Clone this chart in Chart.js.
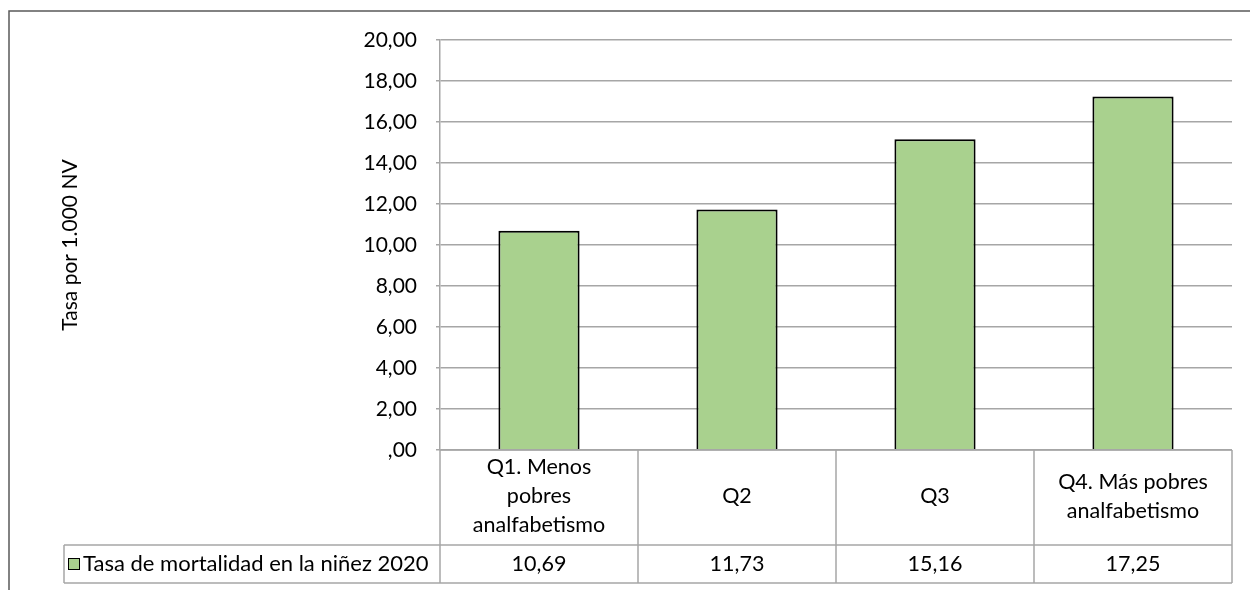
<!DOCTYPE html>
<html>
<head>
<meta charset="utf-8">
<script src="https://cdn.jsdelivr.net/npm/chart.js@4"></script>
<style>
  html, body { margin: 0; padding: 0; background: #fff; }
  #wrap { width: 1250px; height: 590px; }
</style>
</head>
<body>
<div id="wrap"><canvas id="chart" width="1250" height="590"></canvas></div>
<script>
const categories = [
  ["Q1. Menos", "pobres", "analfabetismo"],
  ["Q2"],
  ["Q3"],
  ["Q4. Más pobres", "analfabetismo"]
];
const seriesName = "Tasa de mortalidad en la niñez 2020";
const seriesValues = [10.69, 11.73, 15.16, 17.25];
const yTitle = "Tasa por 1.000 NV";
const yMin = 0, yMax = 20, yStep = 2;

const FONT = "Lato, 'Open Sans', sans-serif";
const GRID = "#a6a6a6";

// comma decimals like the original, zero shows as ",00"
function fmt(v) {
  if (v === 0) return ",00";
  return v.toFixed(2).replace(".", ",");
}

// draws the data table under the plot, the axis title and the outer frame
const tablePlugin = {
  id: "dataTable",
  afterDraw(chart) {
    const ctx = chart.ctx;
    const x = chart.scales.x;
    const area = chart.chartArea;
    const half = (x.getPixelForValue(1) - x.getPixelForValue(0)) / 2;
    const headTop = area.bottom, headBottom = area.bottom + 95, rowBottom = area.bottom + 133;
    const legendLeft = 64;

    ctx.save();
    ctx.strokeStyle = GRID;
    ctx.lineWidth = 1.5;
    ctx.beginPath();
    // horizontal lines
    ctx.moveTo(area.left, headTop); ctx.lineTo(area.right, headTop);
    ctx.moveTo(legendLeft, headBottom); ctx.lineTo(area.right, headBottom);
    ctx.moveTo(legendLeft, rowBottom); ctx.lineTo(area.right, rowBottom);
    // column borders
    for (let i = 0; i <= categories.length; i++) {
      const px = x.getPixelForValue(i) - half;
      ctx.moveTo(px, headTop); ctx.lineTo(px, rowBottom);
    }
    ctx.moveTo(legendLeft, headBottom); ctx.lineTo(legendLeft, rowBottom);
    ctx.stroke();

    // header + values
    ctx.fillStyle = "#000";
    ctx.font = "21.5px " + FONT;
    ctx.textAlign = "center";
    ctx.textBaseline = "middle";
    const lh = 29;
    const headMid = (headTop + headBottom) / 2 - 1;
    const rowMid = (headBottom + rowBottom) / 2;
    categories.forEach((lines, i) => {
      const cx = x.getPixelForValue(i);
      const y0 = headMid - (lines.length - 1) * lh / 2;
      lines.forEach((t, j) => ctx.fillText(t, cx, y0 + j * lh));
      ctx.fillText(fmt(seriesValues[i]), cx, rowMid);
    });

    // legend key + series name
    const ds = chart.data.datasets[0];
    ctx.fillStyle = ds.backgroundColor;
    ctx.fillRect(68, rowMid - 6, 12, 12);
    ctx.strokeStyle = "#000";
    ctx.lineWidth = 1;
    ctx.strokeRect(68.5, rowMid - 5.5, 11, 11);
    ctx.fillStyle = "#000";
    ctx.textAlign = "left";
    ctx.font = "22px " + FONT;
    ctx.fillText(seriesName, 83, rowMid);

    // y axis title
    ctx.font = "21px " + FONT;
    ctx.translate(70, (area.top + area.bottom) / 2);
    ctx.rotate(-Math.PI / 2);
    ctx.textAlign = "center";
    ctx.fillText(yTitle, 0, 0);
    ctx.restore();

    // outer chart frame (runs off the picture on the right and bottom)
    ctx.save();
    ctx.strokeStyle = "#595959";
    ctx.lineWidth = 1.5;
    ctx.beginPath();
    ctx.moveTo(9, chart.height + 2);
    ctx.lineTo(9, 11);
    ctx.lineTo(chart.width + 2, 11);
    ctx.stroke();
    ctx.restore();
  }
};

new Chart(document.getElementById("chart"), {
  type: "bar",
  data: {
    labels: categories,
    datasets: [{
      label: seriesName,
      data: seriesValues,
      backgroundColor: "#a9d18e",
      borderColor: "#000",
      borderWidth: 2,
      categoryPercentage: 1,
      barPercentage: 0.41
    }]
  },
  options: {
    responsive: false,
    animation: false,
    layout: { padding: { left: 0, top: 40, right: 18, bottom: 140 } },
    plugins: { legend: { display: false }, tooltip: { enabled: false } },
    scales: {
      x: { display: false },
      y: {
        min: yMin, max: yMax,
        afterFit(s) { s.width = 440; },
        grid: { color: GRID, lineWidth: 1.5, tickLength: 4 },
        border: { display: true, color: GRID, width: 1.5 },
        ticks: {
          stepSize: yStep,
          padding: 19,
          color: "#000",
          font: { family: FONT, size: 21 },
          callback: v => fmt(v)
        }
      }
    }
  },
  plugins: [tablePlugin]
});
</script>
</body>
</html>
